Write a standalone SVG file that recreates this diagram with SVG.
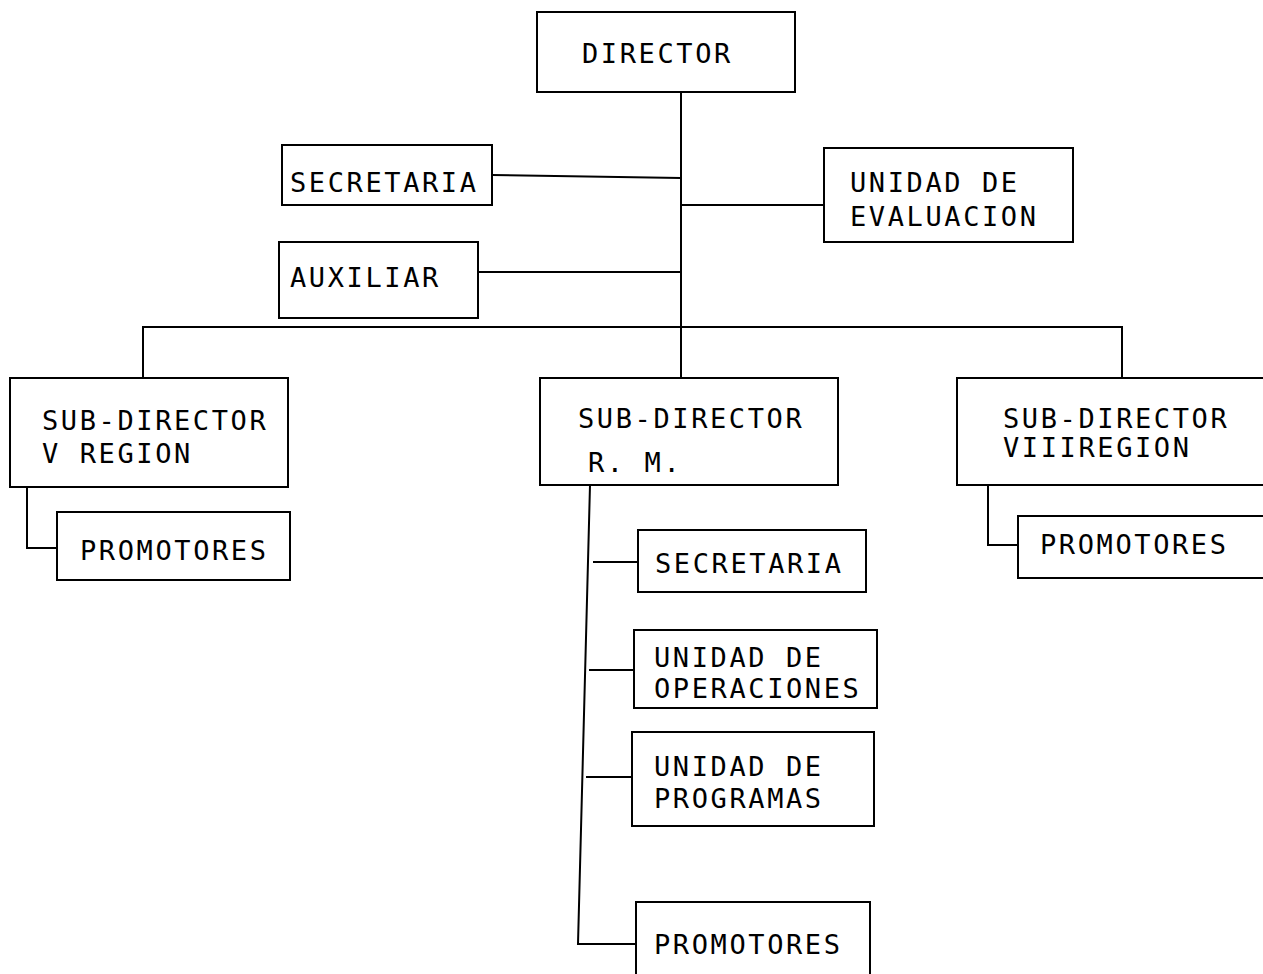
<svg xmlns="http://www.w3.org/2000/svg" width="1263" height="974" viewBox="0 0 1263 974">
<style>
.box{fill:#fff;stroke:#000;stroke-width:2}
.t{font-family:"DejaVu Sans Mono","Liberation Mono",monospace;font-size:27px;letter-spacing:2.6px;fill:#000}
.c{fill:none;stroke:#000;stroke-width:2}
</style>
<rect width="1263" height="974" fill="#fff"/>
<g id="connectors">
<path class="c" d="M681 92 V378"/>
<path class="c" d="M492 175 L681 178"/>
<path class="c" d="M681 205 H824" stroke-width="3"/>
<path class="c" d="M478 272 H681"/>
<path class="c" d="M143 378 V327 H1122 V378"/>
<path class="c" d="M27 487 V548 H57"/>
<path class="c" d="M590 485 L578 944 H636"/>
<path class="c" d="M593 562 H638"/>
<path class="c" d="M589 670 H634"/>
<path class="c" d="M586 777 H632"/>
<path class="c" d="M988 485 V545 H1018"/>
</g>
<g id="director">
<rect class="box" x="537" y="12" width="258" height="80"/>
<text class="t" x="582" y="63">DIRECTOR</text>
</g>
<g id="secretaria">
<rect class="box" x="282" y="145" width="210" height="60"/>
<text class="t" x="290" y="192">SECRETARIA</text>
</g>
<g id="unidad-evaluacion">
<rect class="box" x="824" y="148" width="249" height="94"/>
<text class="t" x="850" y="192">UNIDAD DE</text>
<text class="t" x="850" y="226">EVALUACION</text>
</g>
<g id="auxiliar">
<rect class="box" x="279" y="242" width="199" height="76"/>
<text class="t" x="290" y="287">AUXILIAR</text>
</g>
<g id="subdirector-v">
<rect class="box" x="10" y="378" width="278" height="109"/>
<text class="t" x="42" y="430">SUB-DIRECTOR</text>
<text class="t" x="42" y="463">V REGION</text>
</g>
<g id="promotores-v">
<rect class="box" x="57" y="512" width="233" height="68"/>
<text class="t" x="80" y="560">PROMOTORES</text>
</g>
<g id="subdirector-rm">
<rect class="box" x="540" y="378" width="298" height="107"/>
<text class="t" x="578" y="428">SUB-DIRECTOR</text>
<text class="t" x="588" y="472">R. M.</text>
</g>
<g id="secretaria-rm">
<rect class="box" x="638" y="530" width="228" height="62"/>
<text class="t" x="655" y="573">SECRETARIA</text>
</g>
<g id="unidad-operaciones">
<rect class="box" x="634" y="630" width="243" height="78"/>
<text class="t" x="654" y="667">UNIDAD DE</text>
<text class="t" x="654" y="698">OPERACIONES</text>
</g>
<g id="unidad-programas">
<rect class="box" x="632" y="732" width="242" height="94"/>
<text class="t" x="654" y="776">UNIDAD DE</text>
<text class="t" x="654" y="808">PROGRAMAS</text>
</g>
<g id="promotores-rm">
<rect class="box" x="636" y="902" width="234" height="80"/>
<text class="t" x="654" y="954">PROMOTORES</text>
</g>
<g id="subdirector-viii">
<rect class="box" x="957" y="378" width="310" height="107"/>
<text class="t" x="1003" y="428">SUB-DIRECTOR</text>
<text class="t" x="1003" y="457">VIIIREGION</text>
</g>
<g id="promotores-viii">
<rect class="box" x="1018" y="516" width="249" height="62"/>
<text class="t" x="1040" y="554">PROMOTORES</text>
</g>
</svg>
